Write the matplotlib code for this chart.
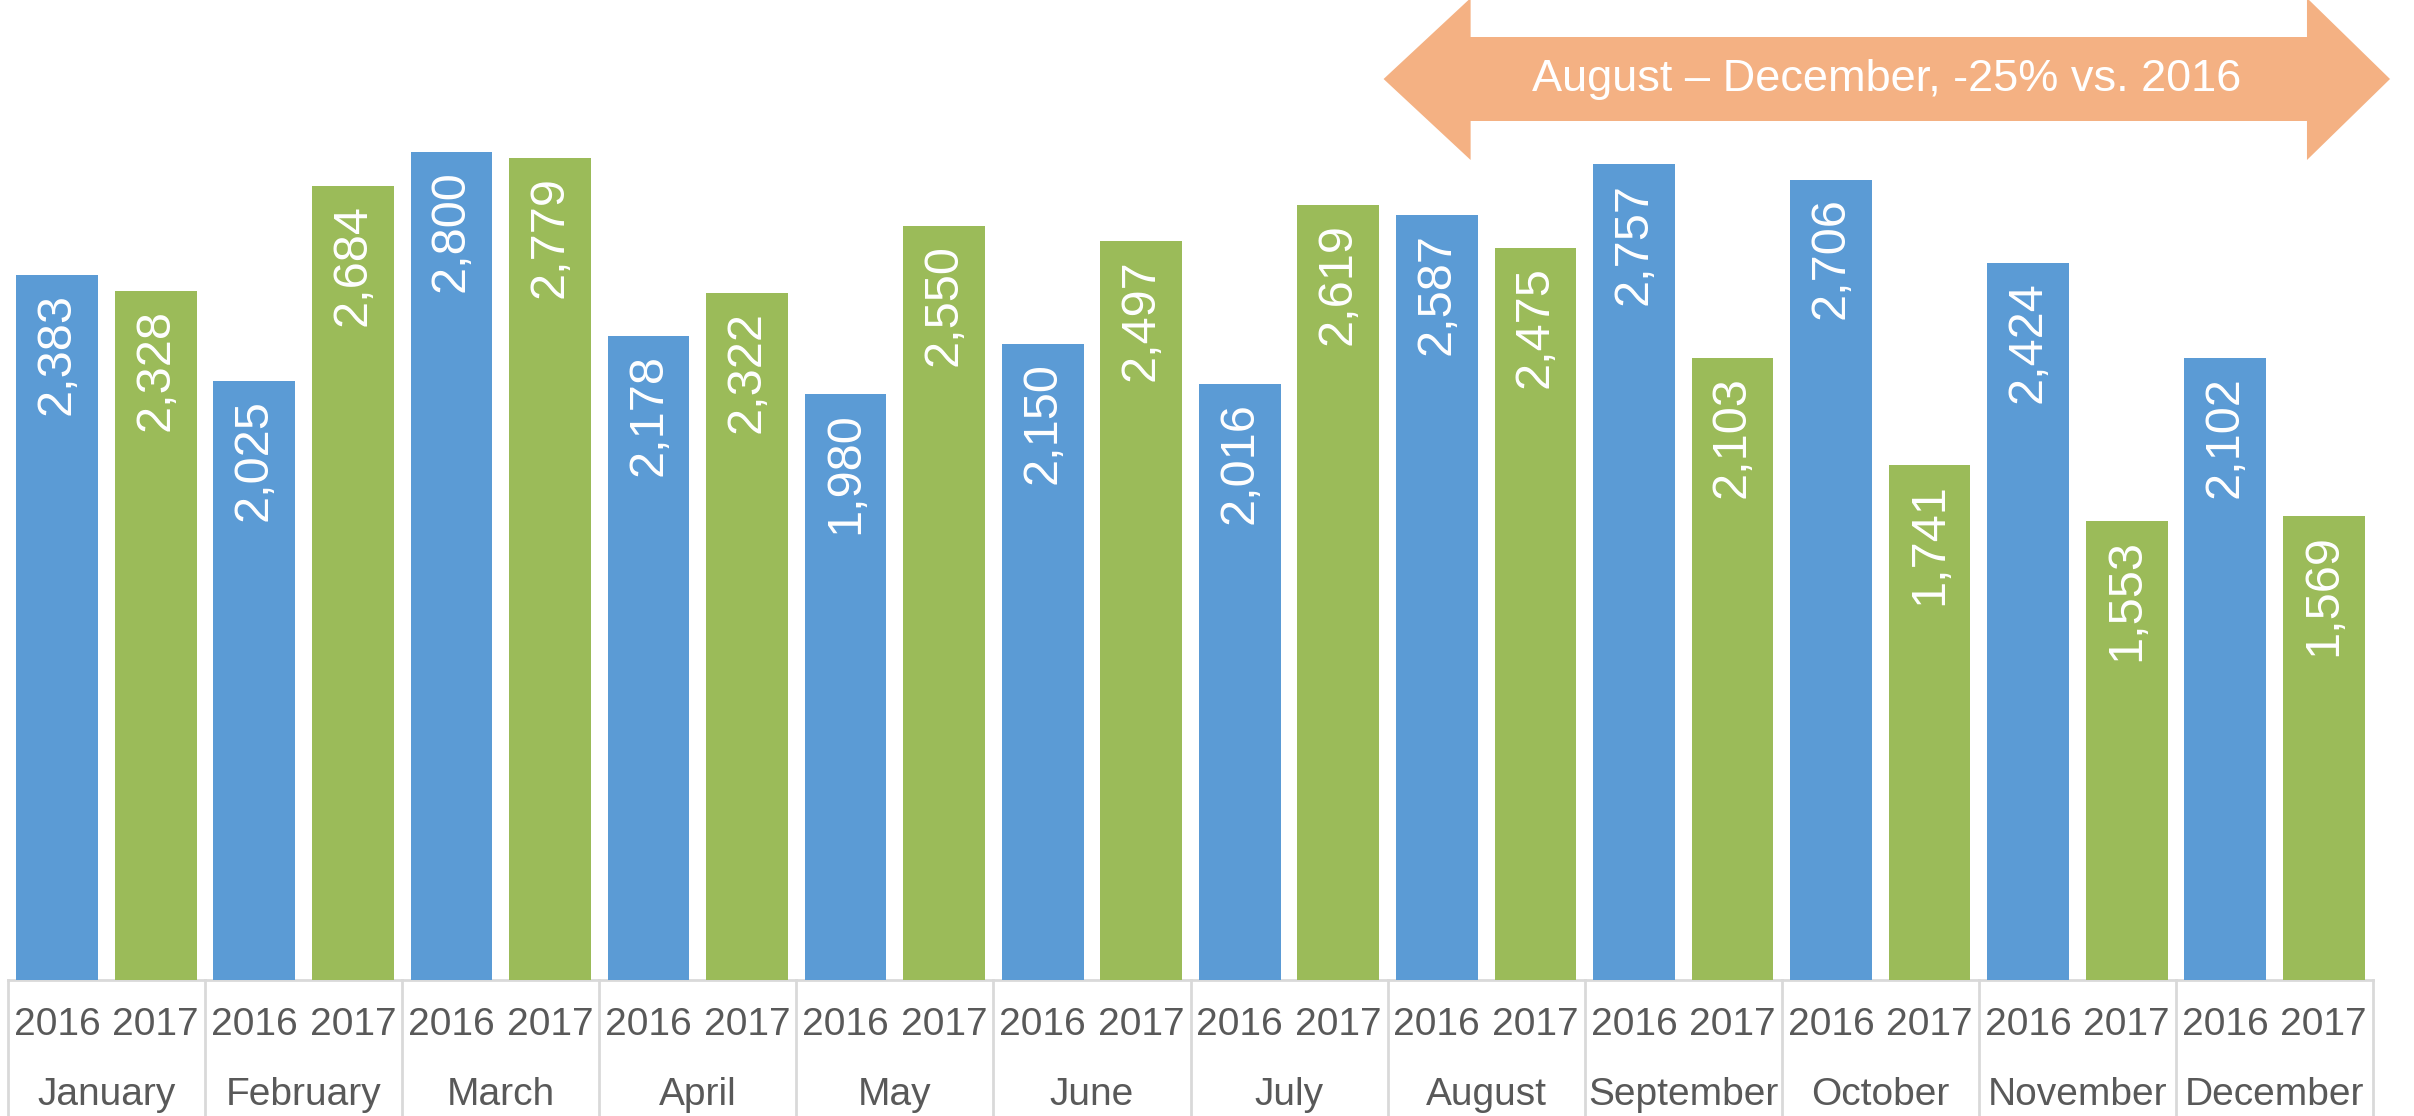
"""
Monthly totals, 2016 vs 2017, with the Aug-Dec callout arrow.
"""

import matplotlib
matplotlib.use("Agg")
import matplotlib.pyplot as plt
from matplotlib.patches import Polygon

months = ["January", "February", "March", "April", "May", "June",
          "July", "August", "September", "October", "November", "December"]
years = ["2016", "2017"]
values_2016 = [2383, 2025, 2800, 2178, 1980, 2150, 2016, 2587, 2757, 2706, 2424, 2102]
values_2017 = [2328, 2684, 2779, 2322, 2550, 2497, 2619, 2475, 2103, 1741, 1553, 1569]
callout = "August \u2013 December, -25% vs. 2016"

BLUE = "#5B9BD5"
GREEN = "#9BBB59"
ORANGE = "#F4B183"
GRID = "#D9D9D9"
TEXT = "#595959"
FONT = ["Liberation Sans", "DejaVu Sans"]

W, H = 2414, 1116
fig = plt.figure(figsize=(W / 100, H / 100), dpi=100)
# axes area in pixels: x 8..2373, baseline at y=980
ax = fig.add_axes([8 / W, (H - 980) / H, 2365 / W, 980 / H])
ax.set_xlim(0, 24)
ax.set_ylim(0, 3313)
ax.axis("off")

bar_w = 0.83
for i, m in enumerate(months):
    x16 = 2 * i + 0.5
    x17 = 2 * i + 1.5
    for x, v, c in [(x16, values_2016[i], BLUE), (x17, values_2017[i], GREEN)]:
        ax.bar(x, v, width=bar_w, color=c, zorder=2)
        ax.annotate(f"{v:,}", (x, v), xytext=(0, -13), textcoords="offset points",
                    rotation=90, ha="center", va="top", color="white",
                    fontsize=35, family=FONT, zorder=3)

# category table under the bars
ax.plot([0, 24], [0, 0], color=GRID, lw=2, clip_on=False, zorder=1)
for k in range(13):
    ax.plot([2 * k, 2 * k], [0, -500], color=GRID, lw=2, clip_on=False, zorder=1)

to_px = ax.get_ylim()[1] / 980.0  # data units per pixel
for i, m in enumerate(months):
    for j, yr in enumerate(years):
        ax.text(2 * i + j + 0.5, -45 * to_px, yr, ha="center", va="center",
                fontsize=28, color=TEXT, family=FONT, clip_on=False)
    ax.text(2 * i + 1, -115 * to_px, m, ha="center", va="center",
            fontsize=28, color=TEXT, family=FONT, clip_on=False)

# double-headed callout arrow (August .. December)
def px_x(p):
    return (p - 8) / 98.5

def px_y(p):
    return (980 - p) * to_px

tip_l, tip_r = px_x(1383), px_x(2389)
back_l, back_r = px_x(1470), px_x(2306)
yc = px_y(79)
shaft_t, shaft_b = px_y(37), px_y(121)
head_t, head_b = px_y(-2), px_y(160)
pts = [(tip_l, yc), (back_l, head_t), (back_l, shaft_t), (back_r, shaft_t),
       (back_r, head_t), (tip_r, yc), (back_r, head_b), (back_r, shaft_b),
       (back_l, shaft_b), (back_l, head_b)]
ax.add_patch(Polygon(pts, closed=True, facecolor=ORANGE, edgecolor="none",
                     clip_on=False, zorder=4))
ax.text((tip_l + tip_r) / 2, yc, callout, ha="center", va="center", color="white",
        fontsize=32.5, family=FONT, clip_on=False, zorder=5)

fig.savefig("out.png", dpi=100)
